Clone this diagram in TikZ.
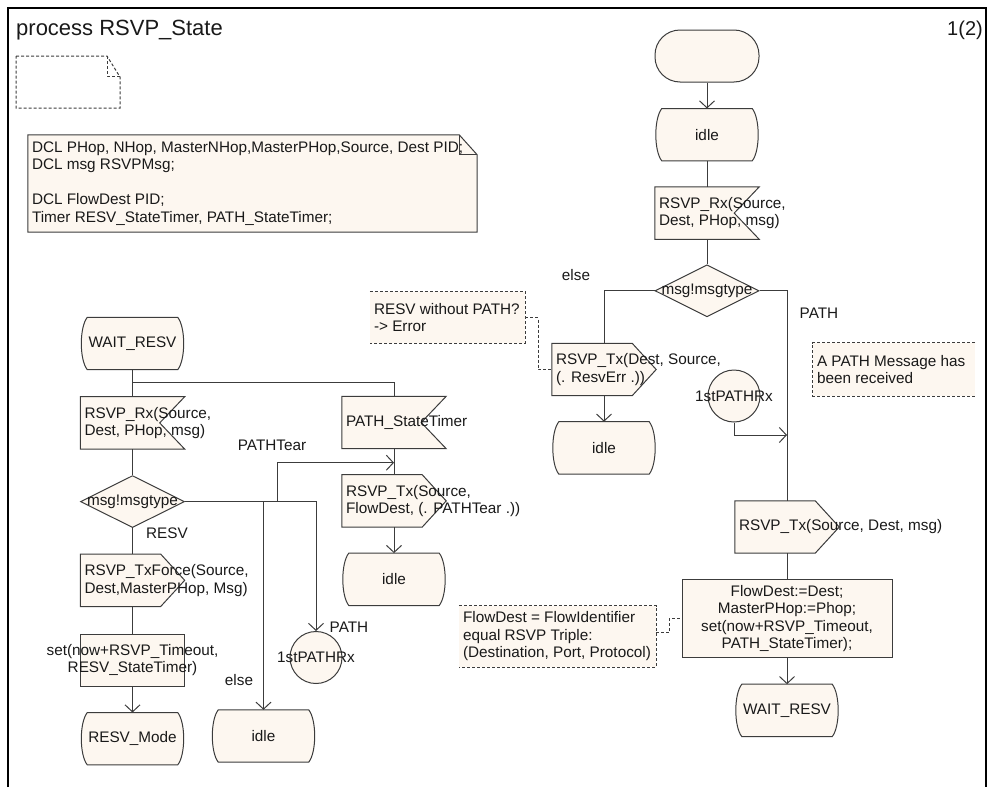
\documentclass[tikz,border=0pt]{standalone}
\usepackage{fontspec}
\setmainfont{Liberation Sans}
\usetikzlibrary{positioning,shapes.geometric,arrows.meta}

\definecolor{linec}{RGB}{60,60,60}
\definecolor{symfill}{RGB}{253,247,240}
\definecolor{textc}{RGB}{25,25,25}

\pgfdeclarelayer{background}
\pgfsetlayers{background,main}

\tikzstyle{box} = [minimum width=104pt, minimum height=52pt, inner sep=0pt]
\tikzstyle{sym} = [draw=linec, fill=symfill, line width=1pt]
\tikzstyle{txt} = [font=\fontsize{15.3}{17.5}\selectfont, text=textc, inner sep=0pt]
\tikzstyle{conn} = [draw=linec, line width=1pt]
\tikzstyle{arr} = [conn, -{Straight Barb[length=7pt,width=15pt]}]
\tikzstyle{cmt} = [draw=linec, line width=1pt, dash pattern=on 3pt off 2pt]
\tikzset{
  ltext/.style={label={[txt,align=left,anchor=west,xshift=4pt]west:{#1}}},
  ctext/.style={label={[txt,align=center]center:{#1}}}
}

\begin{document}
\begin{tikzpicture}[x=1pt, y=-1pt]
\useasboundingbox (0,0) rectangle (987,787);
%frame
\draw[line width=2pt] (8,787) -- (8,8) -- (986,8) -- (986,787);
\node[txt, font=\fontsize{22}{26}\selectfont, anchor=west] (title) at (16,30) {process RSVP\_State};
\node[txt, font=\fontsize{20}{24}\selectfont, anchor=east] (page) at (983,30) {1(2)};
%doc symbol
\draw[cmt] (16,56) -- (107,56) -- (120,77) -- (120,108) -- (16,108) -- cycle;
\draw[cmt] (107,56) -- (107,76) -- (120,76);
%declarations
\node[box, minimum width=449pt, minimum height=97pt,
  ltext={DCL PHop, NHop, MasterNHop,MasterPHop,Source, Dest PID;\\DCL msg RSVPMsg;\\[17.5pt]DCL FlowDest PID;\\Timer RESV\_StateTimer, PATH\_StateTimer;}] (dcl) at (252.5,183.5) {};

%begin right column
\node[box, sym, rounded corners=25pt] (start) at (707,56) {};
\node[box, ctext=idle] (idle1) [below=26pt of start] {};
\node[box, ltext={RSVP\_Rx(Source,\\Dest, PHop, msg)}] (rx1) [below=26pt of idle1] {};
\node[box, sym, diamond, aspect=2, ctext=msg!msgtype] (dec1) [below=25pt of rx1] {};
%else branch
\node[box, ltext={RSVP\_Tx(Dest, Source,\\(. ResvErr .))}] (txErr) at (604,369.5) {};
\node[box, ctext=idle] (idleR) [below=26pt of txErr] {};
\node[box, minimum width=155pt, minimum height=51pt, ltext={RESV without PATH?\\-> Error}] (cmtErr) at (447.5,317.5) {};
%PATH branch
\node[sym, circle, minimum size=52pt, inner sep=0pt, ctext=1stPATHRx] (circ1) at (734,396) {};
\node[box, minimum width=162pt, minimum height=53pt, ltext={A PATH Message has\\been received}] (cmtPath) at (894,369.5) {};
\node[box, ltext={RSVP\_Tx(Source, Dest, msg)}] (txMsg) at (787,527) {};
\node[box, sym, minimum width=210pt, minimum height=78pt,
  ctext={FlowDest:=Dest;\\MasterPHop:=Phop;\\set(now+RSVP\_Timeout,\\PATH\_StateTimer);}] (taskR) [below=26pt of txMsg] {};
\node[box, ctext=WAIT\_RESV] (waitR) [below=26pt of taskR] {};
\node[box, minimum width=197pt, minimum height=61pt,
  ltext={FlowDest = FlowIdentifier\\equal RSVP Triple:\\(Destination, Port, Protocol)}] (cmtFlow) at (557.5,636.5) {};
\node[txt] (else1) at (576,275) {else};
\node[txt] (path1) at (819,313) {PATH};
%end right column

%begin left column
\node[box, ctext=WAIT\_RESV] (waitL) at (132.5,343.5) {};
\node[box, ltext={RSVP\_Rx(Source,\\Dest, PHop, msg)}] (rx2) [below=27pt of waitL] {};
\node[box, sym, diamond, aspect=2, ctext=msg!msgtype] (dec2) [below=26pt of rx2] {};
\node[box, ltext={RSVP\_TxForce(Source,\\Dest,MasterPHop, Msg)}] (txForce) [below=26pt of dec2] {};
\node[box, sym, ctext={set(now+RSVP\_Timeout,\\RESV\_StateTimer)}] (taskL) [below=27pt of txForce] {};
\node[box, ctext=RESV\_Mode] (resvMode) [below=26pt of taskL] {};
\node[box, ctext=idle] (idleL) at (263.5,736) {};
\node[sym, circle, minimum size=52pt, inner sep=0pt, ctext=1stPATHRx] (circ2) at (316,657.5) {};
%timer path
\node[box, ltext={PATH\_StateTimer}] (timer) at (394,422.5) {};
\node[box, ltext={RSVP\_Tx(Source,\\FlowDest, (. PATHTear .))}] (txTear) [below=26pt of timer] {};
\node[box, ctext=idle] (idleM) [below=26pt of txTear] {};
\node[txt] (tear2) at (272,445) {PATHTear};
\node[txt] (resv2) at (167,533) {RESV};
\node[txt] (else2) at (239,680) {else};
\node[txt] (path2) at (349,627) {PATH};
%end left column

%begin outlines
\begin{pgfonlayer}{background}
\foreach \n in {idle1,idleR,waitR,waitL,resvMode,idleL,idleM}
  \draw[sym] ([xshift=7pt]\n.north west) -- ([xshift=-7pt]\n.north east)
    .. controls ([xshift=1pt,yshift=-10pt]\n.north east) and ([xshift=1pt,yshift=10pt]\n.south east) .. ([xshift=-7pt]\n.south east)
    -- ([xshift=7pt]\n.south west)
    .. controls ([xshift=-1pt,yshift=10pt]\n.south west) and ([xshift=-1pt,yshift=-10pt]\n.north west) .. ([xshift=7pt]\n.north west) -- cycle;
\foreach \n in {rx1,rx2,timer}
  \draw[sym] (\n.north west) -- (\n.north east) -- ([xshift=-25pt]\n.east) -- (\n.south east) -- (\n.south west) -- cycle;
\foreach \n in {txErr,txMsg,txForce,txTear}
  \draw[sym] (\n.north west) -- ([xshift=-24pt]\n.north east) -- (\n.east) -- ([xshift=-24pt]\n.south east) -- (\n.south west) -- cycle;
\foreach \n in {cmtErr,cmtPath,cmtFlow}
  \fill[symfill] (\n.north west) rectangle (\n.south east);
\draw[cmt] (cmtErr.north west) -- (cmtErr.north east) -- (cmtErr.south east) -- (cmtErr.south west);
\draw[cmt] (cmtFlow.north west) -- (cmtFlow.north east) -- (cmtFlow.south east) -- (cmtFlow.south west);
\draw[cmt] (cmtPath.north east) -- (cmtPath.north west) -- (cmtPath.south west) -- (cmtPath.south east);
\draw[sym] (dcl.north west) -- ([xshift=-18pt]dcl.north east) -- ([yshift=-20pt]dcl.north east) -- (dcl.south east) -- (dcl.south west) -- cycle;
\draw[conn] ([xshift=-18pt]dcl.north east) -- ++(0,20) -- ++(18,0);
\end{pgfonlayer}
%end outlines

%begin connectors right
\draw[arr] (start.south) -- (idle1.north);
\draw[conn] (idle1.south) -- (rx1.north);
\draw[conn] (rx1.south) -- (dec1.north);
\draw[conn] (dec1.west) -| (txErr.north);
\draw[arr] (txErr.south) -- (idleR.north);
\draw[conn] (dec1.east) -| (txMsg.north);
\coordinate (j1) at (txMsg.north |- 0,435);
\draw[arr] (circ1.south) |- (j1);
\draw[conn] (txMsg.south) -- (taskR.north);
\draw[arr] (taskR.south) -- (waitR.north);
\draw[cmt] ([yshift=4pt]cmtFlow.east) -- ++(13,0) |- (taskR.west);
\draw[cmt] (cmtErr.east) -- ++(13,0) |- (txErr.west);
%end connectors right

%begin connectors left
\draw[conn] (waitL.south) -- (rx2.north);
\draw[conn] (waitL.south) -- ++(0,13) -| (timer.north);
\draw[conn] (rx2.south) -- (dec2.north);
\draw[conn] (dec2.south) -- (txForce.north);
\draw[conn] (txForce.south) -- (taskL.north);
\draw[arr] (taskL.south) -- (resvMode.north);
\draw[arr] (dec2.east) -| (circ2.north);
\draw[arr] (dec2.east -| idleL.north) -- (idleL.north);
\coordinate (j3) at ([yshift=-14pt]timer.south);
\draw[arr] (dec2.east) ++(92,0) |- (j3);
\draw[conn] (timer.south) -- (txTear.north);
\draw[arr] (txTear.south) -- (idleM.north);
%end connectors left
\end{tikzpicture}
\end{document}
